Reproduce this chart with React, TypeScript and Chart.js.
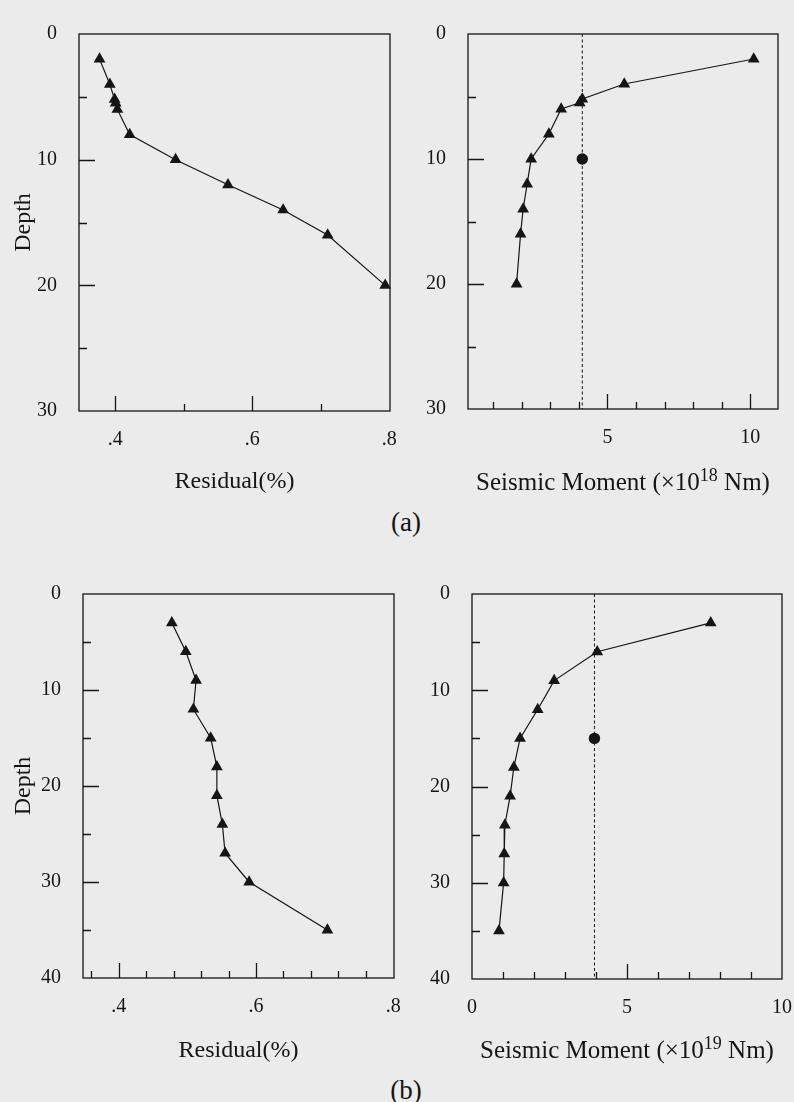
import React, { useEffect, useRef } from "react";
import { Chart, registerables } from "chart.js";

Chart.register(...registerables);

// ---------- data ----------
// (a) depth vs residual / seismic moment
const depthA = [2, 4, 5.2, 5.5, 6, 8, 10, 12, 14, 16, 20];
const residualA = [0.377, 0.392, 0.399, 0.4005, 0.403, 0.421, 0.488, 0.5645, 0.645, 0.71, 0.794];
const momentA = [10.12, 5.59, 4.12, 4.03, 3.38, 2.95, 2.33, 2.19, 2.05, 1.96, 1.82];
const refMomentA = 4.12;
const refDepthA = 10;

// (b)
const depthB = [3, 6, 9, 12, 15, 18, 21, 24, 27, 30, 35];
const residualB = [0.4774, 0.4977, 0.5127, 0.5088, 0.534, 0.543, 0.543, 0.551, 0.555, 0.59, 0.704];
const momentB = [7.7, 4.04, 2.65, 2.12, 1.55, 1.35, 1.23, 1.06, 1.04, 1.02, 0.87];
const refMomentB = 3.95;
const refDepthB = 15;

// tick labels and tick marks
const depthLabelsA = [0, 10, 20, 30];
const depthMarksA = [5, 10, 15, 20, 25];
const depthLabelsB = [0, 10, 20, 30, 40];
const depthMarksB = [5, 10, 15, 20, 25, 30, 35];
const residualLabels = [0.4, 0.6, 0.8];
const residualMarksA = [0.4, 0.5, 0.6, 0.7];
const residualMarksB = [0.36, 0.4, 0.44, 0.48, 0.52, 0.56, 0.6, 0.64, 0.68, 0.72, 0.76];
const momentLabelsA = [5, 10];
const momentMarksA = [1, 2, 3, 4, 5, 6, 7, 8, 9, 10];
const momentLabelsB = [0, 5, 10];
const momentMarksB = [1, 2, 3, 4, 5, 6, 7, 8, 9];

// axis titles
const residualTitle = "Residual(%)";
const depthTitle = "Depth";
const momentTitleA = ["Seismic Moment (×10", "18", " Nm)"];
const momentTitleB = ["Seismic Moment (×10", "19", " Nm)"];

const INK = "#151515";
const SERIF = '"Liberation Serif", "Times New Roman", "DejaVu Serif", serif';

const frameTicks = {
  id: "frameTicks",
  beforeDatasetsDraw(chart: any, _args: any, opts: any) {
    const { ctx, chartArea } = chart;
    const { left, right, top, bottom } = chartArea;
    const xs = chart.scales.x;
    const ys = chart.scales.y;
    ctx.save();
    ctx.strokeStyle = INK;
    ctx.lineWidth = 1.3;
    ctx.strokeRect(left, top, right - left, bottom - top);
    ctx.beginPath();
    for (const v of opts.xMarks) {
      const px = Math.round(xs.getPixelForValue(v)) + 0.5;
      const len = opts.xMajor.includes(v) ? 15 : 7;
      ctx.moveTo(px, bottom);
      ctx.lineTo(px, bottom - len);
    }
    for (const v of opts.yMarks) {
      const py = Math.round(ys.getPixelForValue(v)) + 0.5;
      const len = opts.yMajor.includes(v) ? 16 : 8;
      ctx.moveTo(left, py);
      ctx.lineTo(left + len, py);
    }
    ctx.stroke();
    ctx.restore();
  },
};

// x-axis title with a superscript part, centred under the plot box
const supTitle = {
  id: "supTitle",
  afterDraw(chart: any, _args: any, opts: any) {
    if (!opts || !opts.parts) return;
    const { ctx, chartArea } = chart;
    const [a, sup, b] = opts.parts as string[];
    const main = `25px ${SERIF}`;
    const small = `18px ${SERIF}`;
    ctx.save();
    ctx.fillStyle = INK;
    ctx.textBaseline = "alphabetic";
    ctx.font = main;
    const wa = ctx.measureText(a).width;
    const wb = ctx.measureText(b).width;
    ctx.font = small;
    const ws = ctx.measureText(sup).width;
    const total = wa + ws + wb;
    const cx = (chartArea.left + chartArea.right) / 2;
    let x = cx - total / 2;
    const base = opts.y;
    ctx.textAlign = "left";
    ctx.font = main;
    ctx.fillText(a, x, base);
    x += wa;
    ctx.font = small;
    ctx.fillText(sup, x, base - 9);
    x += ws;
    ctx.font = main;
    ctx.fillText(b, x, base);
    ctx.restore();
  },
};

type Panel = {
  left: number;
  top: number;
  width: number;
  height: number;
  padTop: number;
  padRight: number;
  yWidth: number;
  xHeight: number;
  xMin: number;
  xMax: number;
  yMax: number;
  xLabels: number[];
  xMarks: number[];
  yLabels: number[];
  yMarks: number[];
  xFmt: (v: number) => string;
  xTitle?: string;
  xTitleParts?: string[];
  xTitleBase?: number;
  xTitlePad: number;
  yTitle?: string;
  xs: number[];
  ys: number[];
  refX?: number;
  refY?: number;
};

function PanelChart({ p }: { p: Panel }) {
  const ref = useRef<HTMLCanvasElement | null>(null);
  useEffect(() => {
    if (!ref.current) return;
    const datasets: any[] = [
      {
        data: p.xs.map((x, i) => ({ x, y: p.ys[i] })),
        showLine: true,
        borderColor: INK,
        borderWidth: 1.2,
        backgroundColor: INK,
        pointStyle: "triangle",
        pointRadius: 6.8,
        pointBorderWidth: 0,
        tension: 0,
        clip: false,
      },
    ];
    if (p.refX !== undefined) {
      datasets.push({
        data: [
          { x: p.refX, y: 0 },
          { x: p.refX, y: p.yMax },
        ],
        showLine: true,
        borderColor: INK,
        borderWidth: 1,
        borderDash: [3, 2.5],
        pointRadius: 0,
      });
      datasets.push({
        data: [{ x: p.refX, y: p.refY }],
        showLine: false,
        backgroundColor: INK,
        pointStyle: "circle",
        pointRadius: 5.7,
        pointBorderWidth: 0,
        clip: false,
      });
    }
    const chart = new Chart(ref.current, {
      type: "scatter",
      data: { datasets },
      plugins: [frameTicks, supTitle],
      options: {
        animation: false,
        responsive: false,
        events: [],
        layout: { padding: { top: p.padTop, right: p.padRight, left: 0, bottom: 0 } },
        plugins: {
          legend: { display: false },
          tooltip: { enabled: false },
          frameTicks: {
            xMarks: p.xMarks,
            xMajor: p.xLabels,
            yMarks: p.yMarks,
            yMajor: p.yLabels,
          },
          supTitle: p.xTitleParts ? { parts: p.xTitleParts, y: p.xTitleBase } : {},
        } as any,
        scales: {
          x: {
            type: "linear",
            position: "bottom",
            min: p.xMin,
            max: p.xMax,
            grid: { display: false, drawTicks: false },
            border: { display: false },
            afterFit: (s: any) => {
              s.height = p.xHeight;
            },
            afterBuildTicks: (s: any) => {
              s.ticks = p.xLabels.map((v) => ({ value: v }));
            },
            ticks: {
              autoSkip: false,
              maxRotation: 0,
              padding: 17,
              color: INK,
              font: { family: SERIF, size: 20 },
              callback: (v: any) => p.xFmt(Number(v)),
            },
            title: {
              display: !!p.xTitle,
              text: p.xTitle || "",
              color: INK,
              font: { family: SERIF, size: 24 },
              padding: { top: 0, bottom: p.xTitlePad },
            },
          },
          y: {
            type: "linear",
            reverse: true,
            min: 0,
            max: p.yMax,
            grid: { display: false, drawTicks: false },
            border: { display: false },
            afterFit: (s: any) => {
              s.width = p.yWidth;
            },
            afterBuildTicks: (s: any) => {
              s.ticks = p.yLabels.map((v) => ({ value: v }));
            },
            ticks: {
              autoSkip: false,
              padding: 22,
              color: INK,
              font: { family: SERIF, size: 20 },
              callback: (v: any) => String(v),
            },
            title: {
              display: !!p.yTitle,
              text: p.yTitle || "",
              color: INK,
              font: { family: SERIF, size: 24 },
              padding: { top: 9, bottom: 0 },
            },
          },
        } as any,
      },
    });
    return () => chart.destroy();
  }, [p]);
  return (
    <canvas
      ref={ref}
      width={p.width}
      height={p.height}
      style={{ position: "absolute", left: p.left, top: p.top, width: p.width, height: p.height }}
    />
  );
}

const fmtResidual = (v: number) => v.toFixed(1).replace(/^0/, "");
const fmtMoment = (v: number) => String(v);

const panels: Panel[] = [
  {
    left: 0, top: 0, width: 430, height: 500,
    padTop: 22, padRight: 40, yWidth: 79, xHeight: 89,
    xMin: 0.347, xMax: 0.801, yMax: 30,
    xLabels: residualLabels, xMarks: residualMarksA,
    yLabels: depthLabelsA, yMarks: depthMarksA,
    xFmt: fmtResidual, xTitle: residualTitle, xTitlePad: 3.6, yTitle: depthTitle,
    xs: residualA, ys: depthA,
  },
  {
    left: 400, top: 0, width: 418, height: 500,
    padTop: 20, padRight: 40, yWidth: 68, xHeight: 91,
    xMin: 0.12, xMax: 10.97, yMax: 30,
    xLabels: momentLabelsA, xMarks: momentMarksA,
    yLabels: depthLabelsA, yMarks: depthMarksA,
    xFmt: fmtMoment, xTitleParts: momentTitleA, xTitleBase: 490, xTitlePad: 5.6,
    xs: momentA, ys: depthA, refX: refMomentA, refY: refDepthA,
  },
  {
    left: 0, top: 560, width: 434, height: 510,
    padTop: 32, padRight: 40, yWidth: 83, xHeight: 92,
    xMin: 0.348, xMax: 0.801, yMax: 40,
    xLabels: residualLabels, xMarks: residualMarksB,
    yLabels: depthLabelsB, yMarks: depthMarksB,
    xFmt: fmtResidual, xTitle: residualTitle, xTitlePad: 4.6, yTitle: depthTitle,
    xs: residualB, ys: depthB,
  },
  {
    left: 400, top: 560, width: 422, height: 510,
    padTop: 31, padRight: 40, yWidth: 72, xHeight: 91,
    xMin: 0, xMax: 10, yMax: 40,
    xLabels: momentLabelsB, xMarks: momentMarksB,
    yLabels: depthLabelsB, yMarks: depthMarksB,
    xFmt: fmtMoment, xTitleParts: momentTitleB, xTitleBase: 498, xTitlePad: 9.6,
    xs: momentB, ys: depthB, refX: refMomentB, refY: refDepthB,
  },
];

const captionStyle: React.CSSProperties = {
  position: "absolute",
  width: 100,
  textAlign: "center",
  fontFamily: SERIF,
  fontSize: 27,
  lineHeight: "30px",
  color: INK,
};

export default function App() {
  return (
    <div
      style={{
        position: "fixed",
        left: 0,
        top: 0,
        width: 794,
        height: 1102,
        overflow: "hidden",
        background: "#ebebeb",
      }}
    >
      {panels.map((p, i) => (
        <PanelChart key={i} p={p} />
      ))}
      <div style={{ ...captionStyle, left: 356, top: 507 }}>(a)</div>
      <div style={{ ...captionStyle, left: 356, top: 1075 }}>(b)</div>
    </div>
  );
}
